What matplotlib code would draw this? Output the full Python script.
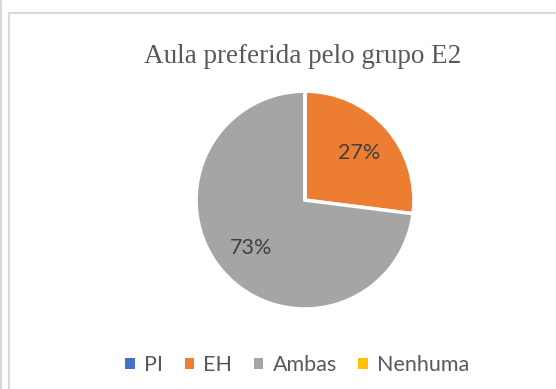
import matplotlib.pyplot as plt
from matplotlib.patches import Patch
from matplotlib.lines import Line2D

categories = ["PI", "EH", "Ambas", "Nenhuma"]
percentages = [0, 27, 73, 0]
colors = ["#4472C4", "#ED7D31", "#A5A5A5", "#FFC000"]
title = "Aula preferida pelo grupo E2"

fig = plt.figure(figsize=(5.56, 3.89), dpi=100)

# chart frame (outer sheet line + chart area border)
grey = "#d9d9d9"
fig.add_artist(Line2D([0.002, 0.002], [0, 1], color=grey, lw=1.5))
fig.add_artist(Line2D([0.017, 0.017], [0, 0.967], color=grey, lw=1.5))
fig.add_artist(Line2D([0.017, 1], [0.967, 0.967], color=grey, lw=1.5))

ax = fig.add_axes([0.3525, 0.2057, 0.392, 0.560])


def fmt(p):
    return "" if p < 0.5 else "{:.0f}%".format(p)


wedges, texts, autotexts = ax.pie(
    percentages, colors=colors, startangle=90, counterclock=False,
    autopct=fmt, pctdistance=0.66,
    wedgeprops=dict(edgecolor="white", linewidth=2.5),
    textprops=dict(fontsize=15.5, color="#404040", family="Lato"))
ax.set_xlim(-1, 1)
ax.set_ylim(-1, 1)
ax.set_aspect("equal")

fig.text(0.544, 0.856, title, ha="center", va="center",
         fontsize=19.5, color="#595959", family="Liberation Serif")

handles = [Patch(facecolor=c, edgecolor="none") for c in colors]
fig.legend(handles, categories, loc="center", bbox_to_anchor=(0.535, 0.062),
           ncol=4, frameon=False, handlelength=0.42, handleheight=0.42,
           handletextpad=0.45, columnspacing=1.0,
           prop=dict(family="Lato", size=15.5), labelcolor="#595959")

fig.savefig("out.png", dpi=100)
